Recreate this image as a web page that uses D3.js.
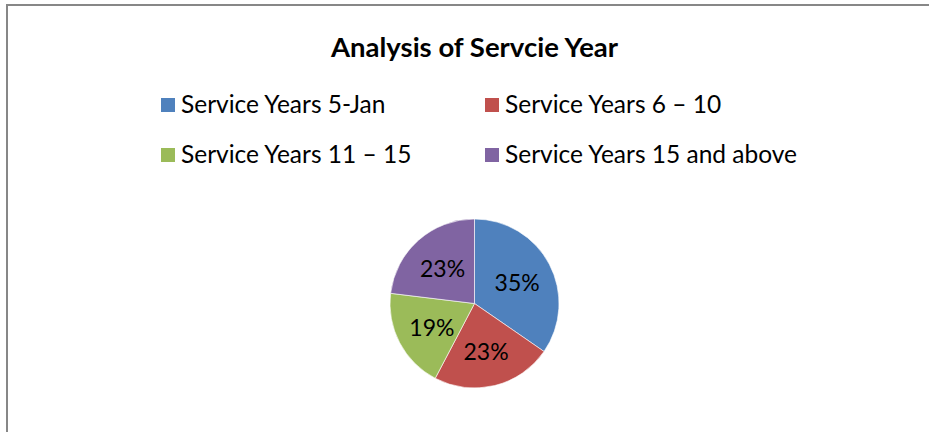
<!DOCTYPE html>
<html>
<head>
<meta charset="utf-8">
<script src="https://cdn.jsdelivr.net/npm/d3@7"></script>
<style>
  html, body { margin: 0; padding: 0; background: #fff; }
  svg { display: block; }
  text { font-family: Lato, "Noto Sans", sans-serif; fill: #000; }
</style>
</head>
<body>
<svg id="chart" width="929" height="432"></svg>
<script>
// ─── Data ─────────────────────────────────────────────────────────────────────

const title = "Analysis of Servcie Year";
const categories = [
  "Service Years 5-Jan",
  "Service Years 6 \u2013 10",
  "Service Years 11 \u2013 15",
  "Service Years 15 and above"
];
const counts = [18, 12, 10, 12];
const colors = ["#4F81BD", "#C0504D", "#9BBB59", "#8064A2"];

// ─── Layout ───────────────────────────────────────────────────────────────────

const W = 929, H = 432;
const cx = 474.5, cy = 303.5, radius = 84.5;

const svg = d3.select("#chart");

// frame (only top/left edges visible in the crop)
svg.append("path")
  .attr("d", `M7,${H} L7,5 L${W},5`)
  .attr("fill", "none")
  .attr("stroke", "#878787")
  .attr("stroke-width", 2);

// title
svg.append("text")
  .attr("x", cx)
  .attr("y", 57)
  .attr("text-anchor", "middle")
  .attr("font-size", "27.5px")
  .attr("font-weight", "700")
  .text(title);

// ─── Legend ───────────────────────────────────────────────────────────────────

const colX = d3.scaleOrdinal().domain([0, 1]).range([161, 485]);
const rowY = d3.scaleOrdinal().domain([0, 1]).range([98, 148]);

const legend = svg.append("g").selectAll("g")
  .data(categories)
  .join("g")
  .attr("transform", (d, i) => `translate(${colX(i % 2)},${rowY(Math.floor(i / 2))})`);

legend.append("rect")
  .attr("width", 14)
  .attr("height", 14)
  .attr("fill", (d, i) => colors[i]);

legend.append("text")
  .attr("x", 20)
  .attr("y", 15)
  .attr("font-size", "24.5px")
  .text(d => d);

// ─── Pie ──────────────────────────────────────────────────────────────────────

const pie = d3.pie().value(d => d).sort(null);
const arc = d3.arc().innerRadius(0).outerRadius(radius);
const labelArc = d3.arc().innerRadius(radius * 0.57).outerRadius(radius * 0.57);
const total = d3.sum(counts);
const arcs = pie(counts);

const g = svg.append("g").attr("transform", `translate(${cx},${cy})`);

g.selectAll("path")
  .data(arcs)
  .join("path")
  .attr("d", arc)
  .attr("fill", (d, i) => colors[i])
  .attr("stroke", "#fff")
  .attr("stroke-width", 0.6);

g.selectAll(".slice-label")
  .data(arcs)
  .join("text")
  .attr("class", "slice-label")
  .attr("transform", d => `translate(${labelArc.centroid(d)})`)
  .attr("text-anchor", "middle")
  .attr("dy", "0.42em")
  .attr("font-size", "23px")
  .text(d => Math.round(d.value / total * 100) + "%");
</script>
</body>
</html>
